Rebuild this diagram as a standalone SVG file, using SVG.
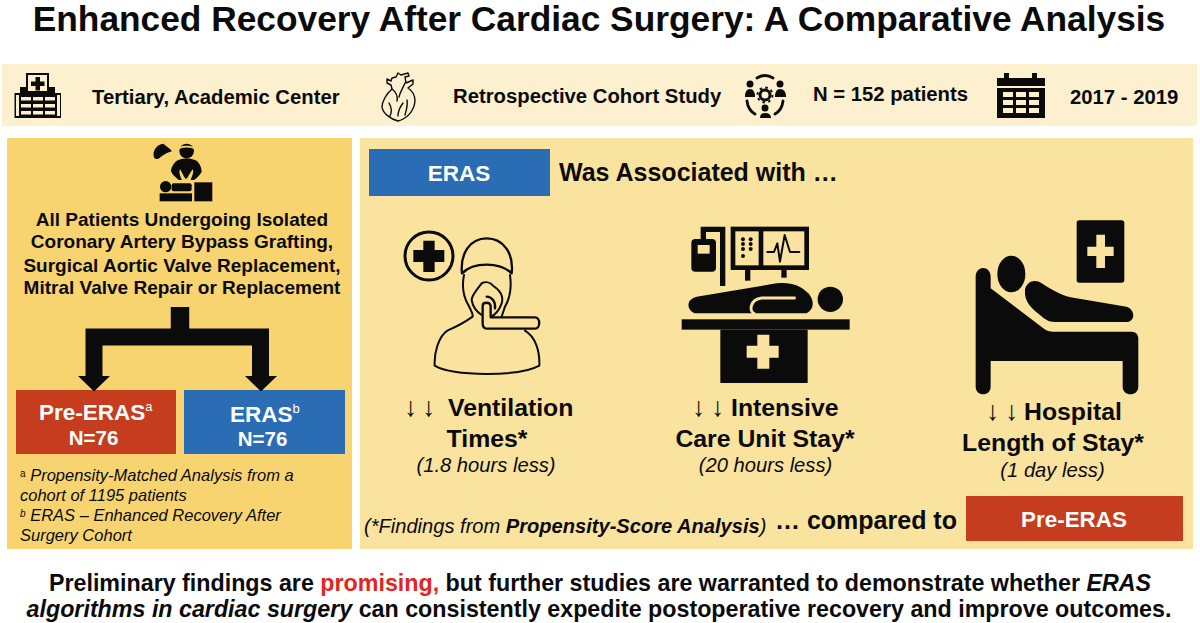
<svg xmlns="http://www.w3.org/2000/svg" width="1200" height="623" viewBox="0 0 1200 623">
<defs>
<style>
text{font-family:"Liberation Sans",Arial,sans-serif;fill:#0b0b0b;font-weight:700}
.w{fill:#fff}
.i{font-style:italic;font-weight:400}
.c{text-anchor:middle}
.band{font-size:20.3px}
.left{font-size:19px}
.big{font-size:24.8px}
.arr{font-weight:400;font-size:27px}
.sub{font-size:20.2px}
.foot{font-size:16.5px}
.bottom{font-size:23.25px}
.box{font-size:22.5px}
.n{font-size:20.5px}
.sup{font-size:13px;font-weight:400}
.ln{fill:none;stroke:#0b0b0b;stroke-linecap:round;stroke-linejoin:round}
.k{fill:#0b0b0b}
</style>
</defs>
<rect width="1200" height="623" fill="#fff"/>
<text id="title" x="599" y="31" class="c" style="font-size:35.3px">Enhanced Recovery After Cardiac Surgery: A Comparative Analysis</text>

<g id="info-band">
<rect x="2" y="64" width="1195" height="62" fill="#fcf0cf"/>
<g id="hospital">
<path class="k" d="M26 73H49V87H55V93H61V118H14.500V93H20V87H26Z"/>
<rect x="28" y="75" width="19" height="16" fill="#fcf0cf"/>
<path class="k" d="M35.500 77H40V81.500H44.500V86H40V90.500H35.500V86H31V81.500H35.500Z"/>
<g fill="#fcf0cf"><rect x="16" y="95" width="3" height="21"/><rect x="57" y="95" width="3" height="21"/><rect x="21" y="97" width="10" height="3.500"/><rect x="33" y="97" width="10" height="3.500"/><rect x="45" y="97" width="10" height="3.500"/><rect x="21" y="104" width="10" height="3.500"/><rect x="33" y="104" width="10" height="3.500"/><rect x="45" y="104" width="10" height="3.500"/><rect x="21" y="111" width="10" height="3.500"/><rect x="33" y="111" width="10" height="3.500"/><rect x="45" y="111" width="10" height="3.500"/></g>
</g>
<text x="92" y="104" class="band">Tertiary, Academic Center</text>
<g id="heart">
<path class="ln" stroke-width="1.400" d="M391 81L387 79V83L391 85L392 89C386 94 382 102 382 107C383 114 391 119 398 121C406 119 414 112 415 101C415 94 411 90 408 88L413 84V80L406 83L405 77L409 76L408 73L401 75L398 73L396 77L392 78Z"/>
<path class="ln" stroke-width="1.400" d="M392 89C396 92 398 96 397 101M405 83C403 88 400 92 399 97M389 103C392 108 392 112 390 116M403 103C400 107 398 110 398 116M407 100C408 106 406 111 405 115"/>
</g>
<text x="453" y="103" class="band">Retrospective Cohort Study</text>
<g id="team">
<circle cx="765" cy="95" r="5" fill="none" stroke="#0b0b0b" stroke-width="3"/>
<circle cx="765" cy="95" r="7.500" fill="none" stroke="#0b0b0b" stroke-width="2" stroke-dasharray="2.500 3.400"/>
<path class="ln" stroke-width="2.800" d="M757 78Q765 73 773 78M747 101Q748 110 755 114M783 101Q782 110 775 114"/>
<circle class="k" cx="750" cy="84" r="3.500"/><circle class="k" cx="780" cy="84" r="3.500"/><circle class="k" cx="765" cy="108" r="3.500"/>
<path class="k" d="M745 97Q745 89 750 89Q755 89 755 97ZM775 97Q775 89 780 89Q786 89 786 97ZM760 118Q760 113 765 113Q771 113 771 118Z"/>
</g>
<text x="813" y="101" class="band">N = 152 patients</text>
<g id="calendar">
<path class="k" d="M997 78H1004V73H1009V78H1032V73H1037V78H1045V86H997ZM997 88H1045V118H997Z"/>
<g fill="#fcf0cf"><rect x="1003" y="92" width="10" height="5"/><rect x="1016" y="92" width="10" height="5"/><rect x="1029" y="92" width="10" height="5"/><rect x="1003" y="100" width="10" height="5"/><rect x="1016" y="100" width="10" height="5"/><rect x="1029" y="100" width="10" height="5"/><rect x="1003" y="108" width="10" height="5"/><rect x="1016" y="108" width="10" height="5"/><rect x="1029" y="108" width="10" height="5"/></g>
</g>
<text x="1070" y="104" class="band">2017 - 2019</text>
</g>

<g id="cohort-panel">
<rect x="7" y="138" width="345" height="411" fill="#f8d470"/>
<g id="surgeon" transform="translate(0 130) scale(.3333)">
<path class="k" d="M462 82C456 62 470 44 490 41C500 50 510 55 516 64C503 67 492 74 482 81C474 89 465 89 462 82Z"/>
<circle class="k" cx="560" cy="63" r="22"/>
<path d="M538 54Q560 46 582 54" fill="none" stroke="#f8d470" stroke-width="5"/>
<path class="k" d="M535 90Q560 80 585 90C598 95 606 115 605 125C600 135 590 145 582 150H572C578 135 582 125 578 118C572 125 566 140 558 148C550 140 546 125 540 118C536 125 540 138 546 150H536C525 140 514 130 513 122C514 110 524 95 535 90Z"/>
<circle class="k" cx="497" cy="170" r="17"/>
<rect class="k" x="515" y="160" width="60" height="24" rx="6"/>
<rect class="k" x="479" y="190" width="97" height="24"/>
<rect class="k" x="583" y="157" width="54" height="57"/>
</g>
<text x="182" y="226" class="left c">All Patients Undergoing Isolated</text>
<text x="182" y="248" class="left c">Coronary Artery Bypass Grafting,</text>
<text x="182" y="272" class="left c">Surgical Aortic Valve Replacement,</text>
<text x="182" y="294" class="left c">Mitral Valve Repair or Replacement</text>
<text x="20" y="481" class="foot i"><tspan style="font-size:10px" dy="-4" font-style="normal">a</tspan><tspan dy="4"> Propensity-Matched Analysis from a</tspan></text>
<text x="20" y="501" class="foot i">cohort of 1195 patients</text>
<text x="20" y="521" class="foot i"><tspan style="font-size:10px" dy="-4">b</tspan><tspan dy="4">  ERAS – Enhanced Recovery After</tspan></text>
<text x="20" y="541" class="foot i">Surgery Cohort</text>
</g>

<g id="pre-eras-node">
<rect x="16" y="390" width="160" height="64" fill="#c53d1e"/>
<text x="39" y="420" class="box w">Pre-ERAS<tspan class="sup w" dy="-9">a</tspan></text>
<text x="93.500" y="445" class="n w c">N=76</text>
</g>
<g id="eras-node">
<rect x="184" y="390" width="161" height="64" fill="#2a6db5"/>
<text x="230" y="422" class="box w">ERAS<tspan class="sup w" dy="-9">b</tspan></text>
<text x="262.500" y="446" class="n w c">N=76</text>
</g>

<g id="connectors" fill="none" stroke="#0b0b0b">
<path stroke-width="18.500" d="M180 307V337"/>
<path stroke-width="17" d="M94 376V337H260.500V376"/>
<path d="M78 376H110L94 391.500Z" fill="#0b0b0b" stroke="none"/>
<path d="M245 376H277L261 391.500Z" fill="#0b0b0b" stroke="none"/>
</g>

<g id="results-panel">
<rect x="360" y="138" width="833" height="411" fill="#fae29f"/>
<g id="eras-label"><rect x="369" y="149" width="181" height="47" fill="#2a6db5"/><text x="459" y="181" class="box w c">ERAS</text></g>
<text x="559" y="181" style="font-size:25px">Was Associated with …</text>
</g>

<g id="ventilation">
<g transform="translate(360 200) scale(.3333)">
<circle cx="207" cy="168" r="72" fill="none" stroke="#0b0b0b" stroke-width="9"/>
<path class="k" d="M190 122H224V150H253V186H224V216H190V186H160V150H190Z"/>
<path class="ln" stroke-width="7" d="M306 220C300 160 330 115 380 115C430 115 462 160 455 220C420 185 340 185 306 220Z"/>
<path class="ln" stroke-width="6" d="M312 225C305 260 310 290 325 315C332 330 340 340 338 350C310 370 290 380 262 392C235 410 222 460 224 497C280 530 480 530 538 497C540 450 525 410 495 392"/>
<path class="ln" stroke-width="6" d="M450 225C455 260 450 295 435 320L425 350"/>
<path class="ln" stroke-width="6" d="M365 250C375 245 390 245 400 258C420 270 432 290 425 310C420 325 410 340 395 350M365 250C350 270 335 285 335 300C338 320 350 335 365 345"/>
<path class="ln" stroke-width="7" d="M380 290C395 290 408 305 405 325"/>
<path class="ln" stroke-width="7" style="fill:#fae29f" d="M368 318C368 305 390 305 392 318V352H525C542 352 542 386 525 386H380C370 386 368 378 368 370Z"/>
</g>
<text y="416" class="big"><tspan x="404" class="arr">↓</tspan><tspan x="422" class="arr">↓</tspan><tspan x="448">Ventilation</tspan></text>
<text x="487" y="447" class="big c">Times*</text>
<text x="486" y="472" class="sub i c">(1.8 hours less)</text>
</g>

<g id="icu">
<g transform="translate(660 200) scale(.3333)">
<path class="ln" stroke-width="16" style="stroke-linecap:butt;stroke-linejoin:miter" d="M130 118V88H188V258"/>
<rect class="k" x="94" y="117" width="74" height="98" rx="12"/>
<rect x="113" y="135" width="36" height="26" fill="#fae29f"/>
<rect x="219" y="87" width="221" height="116" fill="none" stroke="#0b0b0b" stroke-width="14"/>
<rect class="k" x="296" y="90" width="14" height="110"/>
<g class="k"><circle cx="249" cy="118" r="6"/><circle cx="272" cy="118" r="6"/><circle cx="249" cy="132" r="6"/><circle cx="272" cy="132" r="6"/><circle cx="249" cy="147" r="6"/><circle cx="272" cy="147" r="6"/><circle cx="249" cy="168" r="6"/></g>
<path class="ln" stroke-width="6" d="M322 156H342L352 130L360 185L374 105L390 156H418"/>
<rect class="k" x="255" y="205" width="16" height="37"/><rect class="k" x="364" y="205" width="16" height="28"/>
<path class="k" d="M110 290L350 250C390 245 420 255 445 280C462 300 465 325 440 340H110C85 340 70 300 110 290Z"/>
<path d="M407 294H305C270 298 265 335 285 342" fill="none" stroke="#fae29f" stroke-width="9"/>
<circle class="k" cx="511" cy="298" r="38"/>
<rect class="k" x="65" y="358" width="504" height="31"/>
<rect class="k" x="181" y="389" width="262" height="160"/>
<path fill="#fae29f" d="M292 404H328V437H356V473H328V506H292V473H260V437H292Z"/>
</g>
<text y="416" class="big"><tspan x="692" class="arr">↓</tspan><tspan x="711" class="arr">↓</tspan><tspan x="731">Intensive</tspan></text>
<text x="765" y="447" class="big c">Care Unit Stay*</text>
<text x="765.500" y="472" class="sub i c">(20 hours less)</text>
</g>

<g id="hospital-stay">
<g transform="translate(950 200) scale(.3333)">
<rect class="k" x="380" y="61" width="143" height="187" rx="8"/>
<path fill="#fae29f" d="M439 104H465V140H491V168H465V204H439V168H412V140H439Z"/>
<ellipse class="k" cx="184" cy="222" rx="42" ry="55"/>
<path class="k" d="M77 230C77 195 122 195 122 230V265L280 385C290 393 300 395 310 395H545C558 395 565 405 565 415V560C565 590 518 590 518 560V483H122V560C122 590 77 590 77 560Z"/>
<path class="k" d="M225 270C228 245 255 235 275 250C310 272 340 290 370 293L530 320C558 330 555 365 530 366H315C295 366 285 358 270 345C245 325 222 305 225 270Z"/>
</g>
<text y="420" class="big"><tspan x="986" class="arr">↓</tspan><tspan x="1005" class="arr">↓</tspan><tspan x="1024">Hospital</tspan></text>
<text x="1053" y="451" class="big c">Length of Stay*</text>
<text x="1052.500" y="477" class="sub i c">(1 day less)</text>
</g>

<g id="comparison">
<text x="364" y="533" style="font-size:20.1px;font-weight:400;font-style:italic">(*Findings from <tspan font-weight="700">Propensity-Score Analysis</tspan>)</text>
<text x="775" y="529" style="font-size:25px">… compared to</text>
<rect x="966" y="496" width="217" height="45" fill="#c53d1e"/>
<text x="1074" y="527" class="c w" style="font-size:22.4px">Pre-ERAS</text>
</g>

<g id="conclusion">
<text x="600" y="591" class="bottom c">Preliminary findings are <tspan style="fill:#e3261c">promising,</tspan> but further studies are warranted to demonstrate whether <tspan font-style="italic">ERAS</tspan></text>
<text x="599" y="617" class="bottom c"><tspan font-style="italic">algorithms in cardiac surgery</tspan> can consistently expedite postoperative recovery and improve outcomes.</text>
</g>
</svg>
